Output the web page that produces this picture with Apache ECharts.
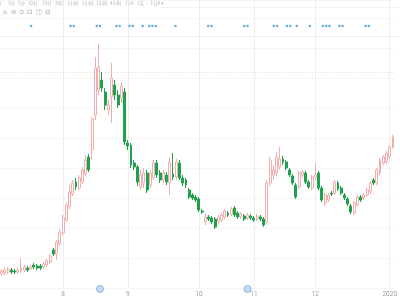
<!DOCTYPE html>
<html><head><meta charset="utf-8">
<script src="https://cdn.jsdelivr.net/npm/echarts@6/dist/echarts.min.js"></script>
<style>html,body{margin:0;padding:0;background:#fff}#c{width:400px;height:300px}</style>
</head><body><div id="c"></div>
<script>
// trading days per month
const julDays = [5,8,9,10,11,12,15,16,17,18,19,22,23,24,25,26,29,30,31];
const augDays = [1,2,5,6,7,8,9,12,13,14,15,16,19,20,21,22,23,26,27,28];
const sepDays = [2,3,4,5,6,9,10,11,12,13,16,17,18,19,20,23,24,25,26,27,29,30];
const octDays = [8,9,10,11,14,15,16,17,18,21,22,23,24,25,28,29,30];
const novDays = [1,4,5,6,7,8,11,12,13,14,15,18,19,20,21,22,25,26,27];
const decDays = [2,3,4,5,6,9,10,11,12,13,16,17,18,19,20,23,24,25,26,27,28,30,31];
const janDays = [2,3];
const monthList = [['2019-07',julDays],['2019-08',augDays],['2019-09',sepDays],['2019-10',octDays],['2019-11',novDays],['2019-12',decDays],['2020-01',janDays]];

// [open, close, low, high]
const candles = [
[7.40,7.70,7.20,7.90],[7.50,7.80,7.30,8.00],[7.60,7.90,7.40,8.10],[7.80,7.60,7.40,8.00],[7.70,7.60,7.40,7.90],
[7.60,7.80,7.40,8.00],[7.70,8.00,7.50,9.00],[7.80,8.10,7.60,8.30],[8.00,7.80,7.60,8.20],[7.90,8.10,7.70,8.30],
[8.30,8.10,7.90,8.50],[8.20,8.00,7.80,8.40],[8.20,8.00,7.80,8.40],[8.10,8.40,7.90,8.60],[8.30,8.70,8.10,8.90],
[8.60,9.20,8.40,9.40],[9.80,9.40,9.20,10.00],[9.40,10.60,8.80,10.80],[10.40,11.60,10.20,11.90],[11.50,13.00,11.30,13.30],
[12.80,14.30,12.60,14.60],[14.10,15.60,13.90,16.30],[15.40,16.50,15.20,16.80],[16.60,16.10,15.80,17.00],[16.00,17.00,15.80,17.30],
[16.60,17.80,16.40,18.10],[17.40,18.80,17.20,19.30],[19.10,17.80,17.60,19.40],[19.80,22.90,18.80,23.10],[23.30,28.00,22.80,29.10],
[25.80,28.10,25.30,30.40],[26.80,26.00,25.60,27.60],[25.60,24.30,23.80,26.00],[23.80,24.30,23.30,24.80],[25.10,27.00,22.50,28.50],
[26.30,25.30,24.80,26.80],[25.30,24.30,24.00,25.80],[25.00,26.20,24.50,26.60],[25.60,20.60,20.30,26.00],[20.50,20.20,19.80,20.80],
[20.30,18.30,18.00,20.50],[18.50,18.10,17.80,18.80],[18.10,16.60,16.20,18.30],[16.10,17.30,15.80,17.80],[16.50,17.50,16.00,18.00],
[17.50,15.80,15.50,17.80],[16.30,17.50,16.00,17.80],[17.00,18.50,16.80,18.80],[18.50,17.30,17.00,18.80],[17.50,16.80,16.50,17.80],
[16.80,17.50,16.50,17.80],[17.30,16.60,16.30,17.60],[16.50,18.60,15.30,19.00],[17.40,17.10,16.80,19.50],[17.10,18.60,16.80,18.90],
[18.50,17.00,16.80,18.80],[17.00,16.50,16.20,17.30],[16.80,16.30,16.00,17.00],[15.80,15.10,14.90,16.00],[15.30,15.00,14.80,15.50],
[15.10,14.80,14.60,15.30],[14.90,13.80,13.60,15.10],[13.70,13.60,13.40,13.90],[12.60,13.10,12.30,13.50],[13.10,12.90,12.70,13.30],
[13.00,12.60,12.40,13.20],[12.90,12.10,11.90,13.10],[12.60,13.10,12.40,13.30],[12.80,13.30,12.60,13.50],[13.10,13.70,12.90,13.90],
[13.50,13.30,13.10,13.70],[13.40,13.90,13.20,14.10],[14.00,13.30,13.10,14.20],[13.50,13.10,12.90,13.70],[13.10,13.40,12.90,13.60],
[13.20,12.90,12.70,13.40],[13.00,13.30,12.80,13.50],[13.20,13.00,12.80,13.40],[13.00,12.80,12.60,13.20],[12.90,13.20,12.70,13.40],
[13.10,12.90,12.70,13.30],[12.90,12.30,12.10,13.10],[12.60,16.50,12.40,16.80],[16.50,18.80,16.20,19.10],[17.30,17.80,16.80,18.30],
[17.50,19.10,17.20,19.60],[18.10,18.90,17.80,20.10],[18.90,18.60,18.30,19.20],[18.60,18.00,17.80,18.80],[17.80,17.30,17.10,18.00],
[17.20,16.50,16.30,17.40],[16.30,15.10,14.90,16.50],[16.10,17.50,15.90,17.70],[17.30,17.60,17.00,17.80],[17.50,16.60,16.40,17.70],
[16.60,16.10,15.90,16.80],[16.00,17.10,15.80,17.30],[17.10,17.30,16.80,18.50],[17.50,16.00,15.80,17.70],[16.00,14.80,14.60,16.20],
[14.50,15.30,14.20,15.50],[14.80,15.30,14.60,15.50],[15.50,15.40,15.20,15.70],[15.50,16.60,15.30,16.80],[16.50,15.90,15.70,16.70],
[16.00,15.50,15.30,16.20],[15.30,15.00,14.80,15.50],[14.90,14.40,14.20,15.10],[14.20,13.60,13.40,14.40],[13.50,14.50,13.30,14.70],
[14.30,15.10,14.10,15.30],[15.10,14.80,14.60,15.30],[15.00,15.30,14.80,15.50],[15.30,15.80,15.10,16.00],[15.60,16.50,15.40,16.70],
[16.80,16.50,16.30,17.00],[16.50,17.80,16.30,18.00],[17.50,18.80,17.30,19.00],[18.50,19.10,18.30,19.30],[18.60,19.50,18.40,19.70],
[19.10,20.10,18.90,20.30],[20.10,21.10,19.90,21.30]
];
const priceLine = 27.6;
const eventIdx = [9,21,22,29,30,35,36,39,40,43,45,46,47,53,63,64,74,75,83,84,87,88,90,94,98,99,100,103,104,111,112];
const markerIdx = [30,75];
const toolbarLabels = ['分','3分','5分','10分','15分','30分','1小时','2小时','3小时','4小时','Tick','1天 · 1日K ▾'];
const toolbarIcons = ['⌂','⊖','⊙','⊡','◫','⊟'];

const dates = [];
const monthStart = new Set();
monthList.forEach(([m, days], mi) => {
  days.forEach((d, k) => {
    const s = m + '-' + String(d).padStart(2, '0');
    if (k === 0 && mi > 0) monthStart.add(s);
    dates.push(s);
  });
});
const isStart = (i, v) => monthStart.has(v);

const tbX = [-3,8,18,28,42,55,67,82,96,110,125,137];
const icX = [3,11,19,27,36,45];
const graphics = [];
toolbarLabels.forEach((t, k) => graphics.push({type:'text', left: tbX[k], top: 1.5, style:{text:t, fill:'#b4b4b4', font:'4.5px "Noto Sans CJK SC", sans-serif'}}));
toolbarIcons.forEach((t, k) => graphics.push({type:'text', left: icX[k], top: 9, style:{text:t, fill:'#a8a8a8', font:'6.5px "DejaVu Sans", sans-serif'}}));
graphics.push({type:'line', shape:{x1:160,y1:7.5,x2:400,y2:7.5}, style:{stroke:'#f2f2f2', lineWidth:1}});
graphics.push({type:'line', shape:{x1:0,y1:36.5,x2:400,y2:36.5}, style:{stroke:'#f0f0f0', lineWidth:1}});

const G = {left:-1, right:-1.6};
const chart = echarts.init(document.getElementById('c'), null, {renderer:'canvas'});
chart.setOption({
  animation: false,
  backgroundColor: '#fff',
  graphic: graphics,
  grid: [
    Object.assign({top:0, bottom:12}, G),
    Object.assign({top:20, height:12}, G),
    Object.assign({top:283, height:12}, G)
  ],
  xAxis: [
    {type:'category', data:dates, gridIndex:0, boundaryGap:true,
     axisLine:{show:false}, axisTick:{show:false},
     axisLabel:{interval:isStart, margin:3, color:'#a0a0a0', fontSize:6.5, fontFamily:'Roboto, sans-serif',
       formatter: v => v.slice(5,7) === '01' ? v.slice(0,4) : String(parseInt(v.slice(5,7),10))},
     splitLine:{show:true, interval:isStart, alignWithLabel:true, lineStyle:{color:'#eeeeee', width:1}}},
    {type:'category', data:dates, gridIndex:1, show:false, boundaryGap:true},
    {type:'category', data:dates, gridIndex:2, show:false, boundaryGap:true}
  ],
  yAxis: [
    {type:'value', gridIndex:0, min:6, max:34.8, interval:3, axisLine:{show:false}, axisTick:{show:false}, axisLabel:{show:false},
     splitLine:{show:true, lineStyle:{color:'#f6f6f6'}}},
    {type:'value', gridIndex:1, min:0, max:1, show:false, splitLine:{show:false}},
    {type:'value', gridIndex:2, min:0, max:1, show:false, splitLine:{show:false}}
  ],
  series: [
    {type:'candlestick', xAxisIndex:0, yAxisIndex:0, data:candles, barWidth:'75%',
     itemStyle:{color:'#ffffff', color0:'#1fa14d', borderColor:'#f2aeae', borderColor0:'#1fa14d', borderWidth:1},
     markLine:{silent:true, symbol:'none', label:{show:false}, z:1,
       lineStyle:{type:[1,2], color:'#f2d2b4', width:1, opacity:0.9},
       data:[{yAxis:priceLine}]}},
    {type:'scatter', xAxisIndex:1, yAxisIndex:1, symbolSize:2.5, data:eventIdx.map(i => [i, 0.5]),
     itemStyle:{color:'#3f98cc'}},
    {type:'scatter', xAxisIndex:2, yAxisIndex:2, symbolSize:7, data:markerIdx.map(i => [i, 0.5]),
     itemStyle:{color:'#b9d2f2', borderColor:'#7aa6e2', borderWidth:1}}
  ]
});
</script></body></html>
